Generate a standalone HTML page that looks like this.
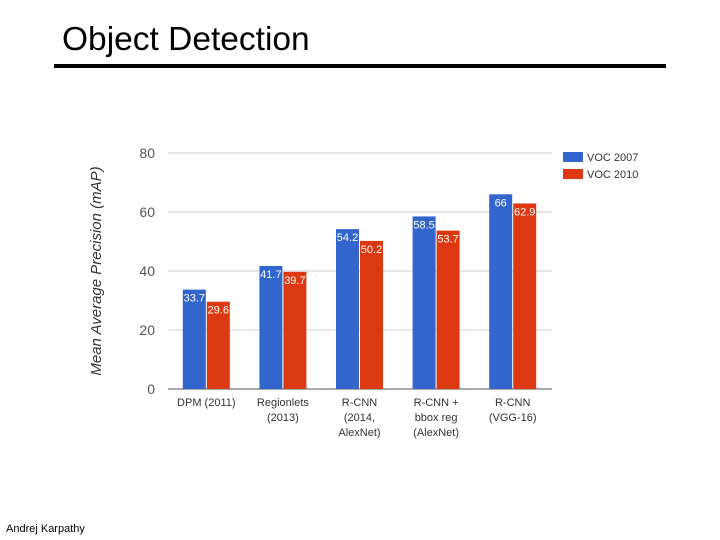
<!DOCTYPE html>
<html><head><meta charset="utf-8"><style>
body{margin:0;width:720px;height:540px;background:#fff;position:relative;overflow:hidden;font-family:"Liberation Sans",sans-serif}
#title{position:absolute;left:62px;top:21px;font-size:33.5px;color:#000}
#rule{position:absolute;left:54px;top:64px;width:612px;height:4px;background:#000}
#author{position:absolute;left:6px;top:523px;font-size:11px;color:#000}
</style></head><body>
<div id="title">Object Detection</div>
<div id="rule"></div>
<div id="author">Andrej Karpathy</div>
<svg id="chart" width="720" height="540" style="position:absolute;left:0;top:0"></svg>
<script>
const categories=[["DPM (2011)"],["Regionlets","(2013)"],["R-CNN","(2014,","AlexNet)"],["R-CNN +","bbox reg","(AlexNet)"],["R-CNN","(VGG-16)"]];
const voc2007=[33.7,41.7,54.2,58.5,66];
const voc2010=[29.6,39.7,50.2,53.7,62.9];
const yTicks=[0,20,40,60,80];
const seriesNames=["VOC 2007","VOC 2010"];
const colors=["#3366cc","#dc3912"];
const svg=document.getElementById('chart');const NS='http://www.w3.org/2000/svg';
function mk(t,a,p){const e=document.createElementNS(NS,t);for(const k in a)e.setAttribute(k,a[k]);(p||svg).appendChild(e);return e;}
const y0=389,y80=153,xL=168,xR=552,gw=76.6,bw=23;
const y=v=>y0-(v/80)*(y0-y80);
const gx=i=>xL+gw*(i+0.5);
yTicks.forEach(t=>{
 const l=mk('line',{x1:xL,x2:xR,y1:y(t),y2:y(t),stroke:t===0?'#555':'#ccc','stroke-width':1});
 
 
 const tx=mk('text',{x:155,y:y(t)+5,'text-anchor':'end','font-size':14,fill:'#555'});tx.textContent=t;
 
 
});
const yt=mk('text',{x:0,y:0,transform:'translate(101,271) rotate(-90)','text-anchor':'middle','font-size':15,'font-style':'italic',fill:'#333'});
yt.textContent='Mean Average Precision (mAP)';


[voc2007,voc2010].forEach((s,si)=>{
 s.forEach((v,i)=>{
  const x=gx(i)-bw+si*(bw+1)-0.5;
  const r=mk('rect',{x:x,y:y(v),width:bw,height:y0-y(v),fill:colors[si]});
  
  
  const t=mk('text',{x:x+bw/2,y:y(v)+12,'text-anchor':'middle','font-size':11,fill:'#fff'});t.textContent=v;
  
  
 });
});
categories.forEach((c,i)=>{
 c.forEach((ln,j)=>{
  const t=mk('text',{x:gx(i),y:406+j*15,'text-anchor':'middle','font-size':11,fill:'#333'});t.textContent=ln;
  
  
 });
});
seriesNames.forEach((n,i)=>{
 const r=mk('rect',{x:563,y:152+i*17,width:20,height:10,fill:colors[i]});
 
 
 const t=mk('text',{x:587,y:161+i*17,'font-size':11,fill:'#333'});t.textContent=n;
 
 
});
</script>
</body></html>
